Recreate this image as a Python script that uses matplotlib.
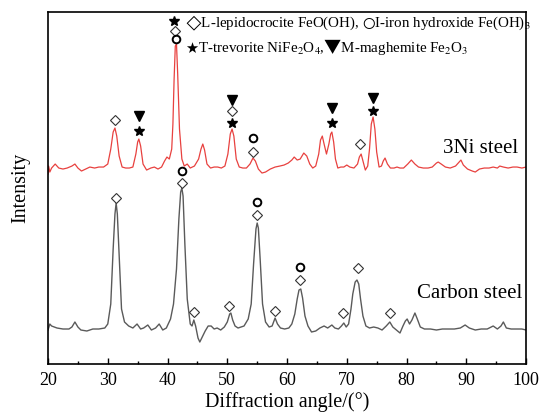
import matplotlib
matplotlib.use("Agg")
import matplotlib.pyplot as plt

plt.rcParams['font.family'] = ['Liberation Serif', 'DejaVu Serif']
plt.rcParams['mathtext.fontset'] = 'stix'

# XRD pattern of the carbon steel rust layer (2theta, counts in arbitrary units)
cs_angle = [20.0, 20.3, 20.6, 21.5, 22.5, 23.5, 24.0, 24.5, 25.0, 25.5, 26.5, 27.5, 28.5, 29.5,
            30.0, 30.5, 30.9, 31.2, 31.4, 31.6, 31.9, 32.3, 32.8, 33.5, 34.2, 34.9, 35.5, 36.0,
            36.7, 37.3, 38.0, 38.6, 39.2, 39.8, 40.5, 41.0, 41.5, 41.9, 42.2, 42.4, 42.6, 42.9,
            43.3, 43.8, 44.1, 44.4, 44.7, 45.1, 45.4, 45.8, 46.3, 46.8, 47.3, 47.8, 48.3, 48.9,
            49.5, 50.0, 50.4, 50.6, 50.9, 51.3, 51.8, 52.3, 52.8, 53.5, 54.0, 54.4, 54.8, 55.0,
            55.2, 55.5, 55.9, 56.4, 57.0, 57.5, 58.0, 58.4, 58.9, 59.6, 60.3, 60.8, 61.3, 61.7,
            62.0, 62.3, 62.6, 63.0, 63.5, 64.1, 64.8, 65.5, 66.2, 66.8, 67.5, 68.0, 68.6, 69.1,
            69.5, 69.9, 70.3, 70.7, 71.0, 71.4, 71.7, 72.0, 72.3, 72.7, 73.2, 73.8, 74.5, 75.2,
            75.9, 76.6, 77.2, 77.7, 78.3, 78.9, 79.4, 79.8, 80.1, 80.5, 80.9, 81.4, 81.8, 82.3,
            83.0, 84.0, 85.0, 86.0, 87.0, 88.0, 89.0, 89.8, 90.5, 91.5, 92.5, 93.5, 94.5, 95.2,
            95.8, 96.2, 96.7, 97.5, 98.5, 99.3, 100.0]
cs_counts = [34, 40, 38, 36, 35, 35, 37, 42, 37, 34, 33, 35, 35, 36,
             40, 60, 115, 150, 161, 150, 110, 55, 42, 38, 36, 40, 35, 36,
             39, 34, 36, 40, 34, 36, 45, 60, 95, 145, 172, 176, 168, 120,
             65, 40, 38, 44, 38, 26, 22, 27, 33, 38, 38, 35, 36, 34,
             37, 42, 50, 51, 44, 38, 36, 37, 38, 45, 60, 100, 135, 141,
             136, 105, 60, 42, 37, 38, 46, 40, 36, 35, 36, 40, 50, 65,
             74, 75, 66, 48, 38, 32, 33, 36, 38, 36, 39, 36, 35, 38,
             41, 37, 40, 55, 70, 82, 84, 80, 65, 48, 38, 36, 37, 36,
             34, 38, 42, 37, 34, 31, 38, 43, 45, 40, 44, 51, 45, 37,
             35, 35, 34, 35, 35, 35, 36, 39, 36, 34, 35, 35, 38, 35,
             38, 42, 36, 35, 35, 35, 34]

# XRD pattern of the 3Ni steel rust layer
ni_angle = [20.0, 20.1, 20.3, 20.6, 21.2, 21.8, 22.5, 23.2, 24.0, 24.5, 25.0, 25.6, 26.3, 27.0,
            27.8, 28.5, 29.3, 30.0, 30.5, 30.9, 31.2, 31.5, 31.9, 32.4, 33.0, 33.6, 34.2, 34.7,
            35.0, 35.2, 35.5, 35.9, 36.5, 37.2, 37.8, 38.4, 39.0, 39.5, 39.9, 40.3, 40.7, 40.9,
            41.1, 41.3, 41.5, 41.7, 42.0, 42.4, 42.8, 43.3, 43.8, 44.5, 45.2, 45.6, 45.9, 46.2,
            46.6, 47.2, 47.8, 48.4, 49.0, 49.6, 50.1, 50.5, 50.8, 51.1, 51.5, 52.0, 52.6, 53.2,
            53.8, 54.3, 54.7, 55.2, 55.8, 56.4, 57.2, 58.0, 58.8, 59.5, 60.2, 60.8, 61.2, 61.7,
            62.2, 62.8, 63.3, 63.8, 64.3, 64.8, 65.3, 65.6, 65.9, 66.2, 66.6, 67.0, 67.3, 67.5,
            67.8, 68.1, 68.5, 69.0, 69.5, 70.0, 70.5, 71.2, 71.8, 72.1, 72.4, 72.7, 73.1, 73.5,
            73.8, 74.1, 74.4, 74.7, 75.0, 75.4, 75.8, 76.1, 76.4, 76.8, 77.3, 77.9, 78.4, 78.9,
            79.5, 80.2, 80.8, 81.4, 82.0, 82.8, 83.6, 84.3, 85.0, 85.3, 85.8, 86.5, 87.3, 88.2,
            88.8, 89.1, 89.5, 90.2, 91.0, 91.5, 92.2, 93.0, 93.8, 94.5, 95.2, 95.6, 96.2, 97.0,
            97.8, 98.5, 99.3, 100.0]
ni_counts = [190, 198, 192, 196, 200, 196, 195, 196, 198, 200, 196, 193, 195, 197,
             196, 197, 197, 200, 215, 232, 236, 228, 208, 197, 196, 196, 197, 210,
             222, 225, 218, 200, 194, 196, 197, 195, 197, 203, 207, 205, 215, 240,
             285, 318, 320, 290, 235, 205, 198, 200, 196, 198, 205, 215, 220, 214,
             200, 196, 197, 197, 196, 198, 210, 230, 235, 228, 205, 197, 196, 196,
             200, 206, 203, 195, 191, 192, 195, 197, 198, 199, 201, 204, 207, 204,
             205, 211, 208, 200, 196, 198, 210, 224, 228, 220, 210, 220, 230, 232,
             222, 205, 196, 197, 197, 199, 197, 196, 200, 207, 210, 203, 194, 198,
             215, 240, 247, 235, 212, 197, 198, 203, 206, 200, 196, 196, 197, 196,
             196, 200, 204, 200, 197, 196, 196, 197, 201, 202, 200, 197, 196, 198,
             202, 204, 199, 195, 193, 192, 195, 196, 196, 197, 196, 198, 197, 196,
             197, 197, 196, 197]

# phase markers placed above the indexed reflections
cs_lep_x = [31.4, 42.4, 44.4, 50.3, 55.0, 58.0, 62.2, 69.4, 71.9, 77.2]
cs_lep_y = [166, 181, 52, 58, 149, 53, 84, 51, 96, 51]
cs_hyd_x = [42.4, 55.0, 62.2]
cs_hyd_y = [193, 162, 97]

ni_lep_x = [31.2, 41.2, 50.8, 54.3, 72.2]
ni_lep_y = [244, 333, 253, 212, 220]
ni_hyd_x = [41.5, 54.3]
ni_hyd_y = [325, 226]
ni_trev_x = [35.2, 41.0, 50.8, 67.5, 74.4]
ni_trev_y = [233, 343, 241, 241, 253]
ni_magh_x = [35.2, 50.8, 67.5, 74.4]
ni_magh_y = [248, 264, 256, 266]

fig = plt.figure(figsize=(5.42, 4.16), dpi=100)
ax = fig.add_axes([0.0886, 0.125, 0.882, 0.846])

ax.plot(cs_angle, cs_counts, color='#5a5a5a', lw=1.0)
ax.plot(ni_angle, ni_counts, color='#e8413f', lw=0.9)

lep = dict(ls='none', marker='D', ms=5.0, mfc='white', mec='#333333', mew=0.8)
hyd = dict(ls='none', marker='o', ms=5.5, mfc='none', mec='black', mew=1.4)
trev = dict(ls='none', marker='*', ms=7, color='black')
magh = dict(ls='none', marker='v', ms=6.5, color='black')

ax.plot(cs_lep_x, cs_lep_y, **lep)
ax.plot(cs_hyd_x, cs_hyd_y, **hyd)
ax.plot(ni_lep_x, ni_lep_y, **lep)
ax.plot(ni_hyd_x, ni_hyd_y, **hyd)
ax.plot(ni_trev_x, ni_trev_y, **trev)
ax.plot(ni_magh_x, ni_magh_y, **magh)

ax.text(98.7, 216, '3Ni steel', ha='right', va='center', fontsize=15)
ax.text(99.3, 71, 'Carbon steel', ha='right', va='center', fontsize=15)

ax.text(43.0, 341, '$\u25c7$L-lepidocrocite FeO(OH), $\u25cb$I-iron hydroxide Fe(OH)$_3$',
        ha='left', va='center', fontsize=10.8)
ax.text(43.0, 317, '$\u2605$T-trevorite NiFe$_2$O$_4$,$\u25bc$M-maghemite Fe$_2$O$_3$',
        ha='left', va='center', fontsize=10.8)

ax.set_xlim(20, 100)
ax.set_ylim(0, 352)
ax.set_xticks(range(20, 101, 10))
ax.set_xticks(range(25, 100, 10), minor=True)
ax.set_yticks([])
ax.tick_params(axis='x', which='major', direction='in', length=4, width=1, labelsize=13, pad=6)
ax.tick_params(axis='x', which='minor', direction='in', length=2.5, width=1)
for s in ax.spines.values():
    s.set_linewidth(1.2)

ax.set_xlabel('Diffraction angle/(\u00b0)', fontsize=14.5, labelpad=2)
ax.set_ylabel('Intensity', fontsize=14.5, labelpad=13)

fig.savefig('out.png', dpi=100)
